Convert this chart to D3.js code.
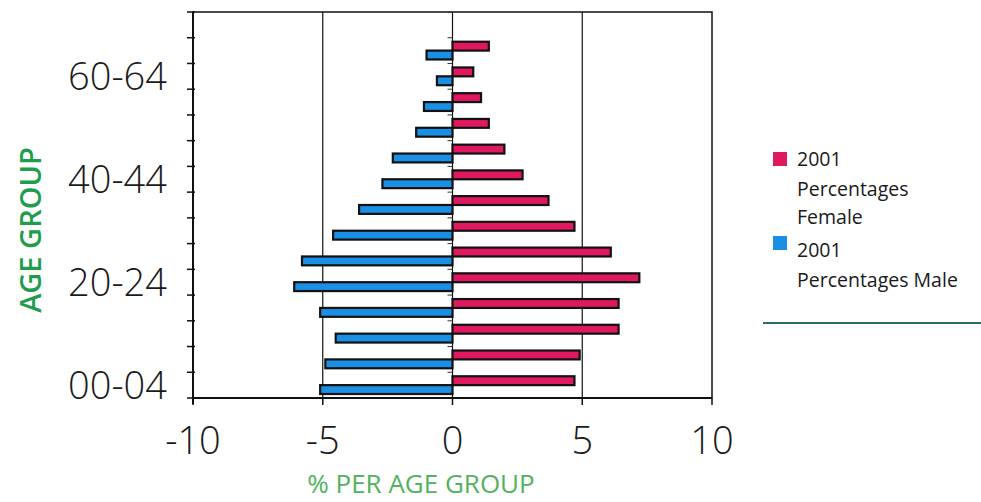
<!DOCTYPE html>
<html>
  <head>
    <meta charset="utf-8">
    <script src="https://d3js.org/d3.v7.min.js"></script>
    <style>
      body { margin: 0; background: #fff; }
    </style>
  </head>
  <body>
    <svg id="chart" width="981" height="502"></svg>
    <script>
    // age groups from bottom to top; the top band is empty in the original
    const ageGroups = ["00-04","05-09","10-14","15-19","20-24","25-29","30-34",
                       "35-39","40-44","45-49","50-54","55-59","60-64","65-69","70+"];
    const shownLabels = ["00-04","20-24","40-44","60-64"];
    const female = [4.7, 4.9, 6.4, 6.4, 7.2, 6.1, 4.7, 3.7, 2.7, 2.0, 1.4, 1.1, 0.8, 1.4, null];
    const male   = [5.1, 4.9, 4.5, 5.1, 6.1, 5.8, 4.6, 3.6, 2.7, 2.3, 1.4, 1.1, 0.6, 1.0, null];
    const xTicks = [-10, -5, 0, 5, 10];

    const svg = d3.select("#chart");
    const plotLeft = 193, plotRight = 712, plotTop = 12, plotBottom = 398;

    const x = d3.scaleLinear().domain([-10, 10]).range([plotLeft, plotRight]);
    const y = d3.scaleBand().domain(ageGroups).range([plotBottom, plotTop]);
    const sub = d3.scaleBand().domain(["f","m"]).range([0, y.bandwidth()])
                  .paddingInner(0).paddingOuter(0.45);
    const color = d3.scaleOrdinal().domain(["f","m"]).range(["#e0185f","#1a8fe3"]);

    // plot frame and gridlines
    svg.append("rect")
      .attr("x", plotLeft).attr("y", plotTop)
      .attr("width", plotRight - plotLeft).attr("height", plotBottom - plotTop)
      .attr("fill", "#fff").attr("stroke", "#111").attr("stroke-width", 1.5);

    svg.selectAll("line.grid").data(xTicks.slice(1, -1)).enter().append("line")
      .attr("class", "grid")
      .attr("x1", d => x(d)).attr("x2", d => x(d))
      .attr("y1", plotTop).attr("y2", plotBottom)
      .attr("stroke", "#111").attr("stroke-width", 1.2);

    // band boundaries for the category ticks
    const bounds = ageGroups.map(d => y(d) + y.bandwidth()).concat([plotTop]);

    svg.selectAll("line.ytick").data(bounds).enter().append("line")
      .attr("class", "ytick")
      .attr("x1", plotLeft - 6).attr("x2", plotLeft + 2)
      .attr("y1", d => d).attr("y2", d => d)
      .attr("stroke", "#111").attr("stroke-width", 1.5);

    svg.selectAll("line.ztick").data(bounds).enter().append("line")
      .attr("class", "ztick")
      .attr("x1", x(0) - 5).attr("x2", x(0))
      .attr("y1", d => d).attr("y2", d => d)
      .attr("stroke", "#333").attr("stroke-width", 1);

    // bars
    const rows = ageGroups.map((g, i) => ({ g: g, f: female[i], m: male[i] }))
                          .filter(d => d.f !== null);

    svg.selectAll("rect.female").data(rows).enter().append("rect")
      .attr("class", "female")
      .attr("x", x(0))
      .attr("y", d => y(d.g) + sub("f"))
      .attr("width", d => x(d.f) - x(0))
      .attr("height", sub.bandwidth())
      .attr("fill", color("f")).attr("stroke", "#111").attr("stroke-width", 2.2);

    svg.selectAll("rect.male").data(rows).enter().append("rect")
      .attr("class", "male")
      .attr("x", d => x(-d.m))
      .attr("y", d => y(d.g) + sub("m"))
      .attr("width", d => x(0) - x(-d.m))
      .attr("height", sub.bandwidth())
      .attr("fill", color("m")).attr("stroke", "#111").attr("stroke-width", 2.2);

    // axes lines (heavier)
    svg.append("line").attr("x1", plotLeft).attr("x2", plotLeft)
      .attr("y1", plotTop).attr("y2", plotBottom + 6)
      .attr("stroke", "#111").attr("stroke-width", 2);
    svg.append("line").attr("x1", plotLeft).attr("x2", plotRight)
      .attr("y1", plotBottom).attr("y2", plotBottom)
      .attr("stroke", "#111").attr("stroke-width", 2);

    svg.selectAll("line.xtick").data(xTicks).enter().append("line")
      .attr("class", "xtick")
      .attr("x1", d => x(d)).attr("x2", d => x(d))
      .attr("y1", plotBottom).attr("y2", plotBottom + 7)
      .attr("stroke", "#111").attr("stroke-width", 1.5);

    const tickFont = "'Open Sans', 'Lato', sans-serif";

    svg.selectAll("text.xlab").data(xTicks).enter().append("text")
      .attr("class", "xlab")
      .attr("x", d => x(d)).attr("y", 454)
      .attr("text-anchor", "middle")
      .style("font-family", tickFont).style("font-weight", 300).style("font-size", "38px")
      .attr("fill", "#1a1a1a")
      .text(d => d);

    svg.selectAll("text.ylab").data(shownLabels).enter().append("text")
      .attr("class", "ylab")
      .attr("x", 167).attr("y", d => y(d) + y.bandwidth() / 2)
      .attr("dy", "0.36em")
      .attr("text-anchor", "end")
      .style("font-family", tickFont).style("font-weight", 300).style("font-size", "38px")
      .attr("fill", "#1a1a1a")
      .text(d => d);

    // axis titles
    svg.append("text")
      .attr("transform", "translate(41,230) rotate(-90)")
      .attr("text-anchor", "middle")
      .style("font-family", "'Open Sans', sans-serif").style("font-weight", 600).style("font-size", "29px")
      .attr("fill", "#1f9d4c")
      .text("AGE GROUP");

    svg.append("text")
      .attr("x", 421).attr("y", 493)
      .attr("text-anchor", "middle")
      .style("font-family", "'Open Sans', sans-serif").style("font-size", "26px")
      .attr("fill", "#52b25e")
      .text("% PER AGE GROUP");

    // legend
    const legend = [
      { key: "f", lines: ["2001", "Percentages", "Female"], box: 152, base: [166, 196, 224] },
      { key: "m", lines: ["2001", "Percentages Male"], box: 236, base: [257, 287] }
    ];
    legend.forEach(function(l) {
      svg.append("rect")
        .attr("x", 773).attr("y", l.box).attr("width", 14).attr("height", 14)
        .attr("fill", color(l.key));
      l.lines.forEach(function(t, i) {
        svg.append("text")
          .attr("x", 797).attr("y", l.base[i])
          .style("font-family", "'Open Sans', sans-serif").style("font-size", "19.5px")
          .attr("fill", "#1a1a1a")
          .text(t);
      });
    });

    svg.append("line")
      .attr("x1", 763).attr("x2", 981).attr("y1", 323).attr("y2", 323)
      .attr("stroke", "#2f6b66").attr("stroke-width", 2);
    </script>
  </body>
</html>
